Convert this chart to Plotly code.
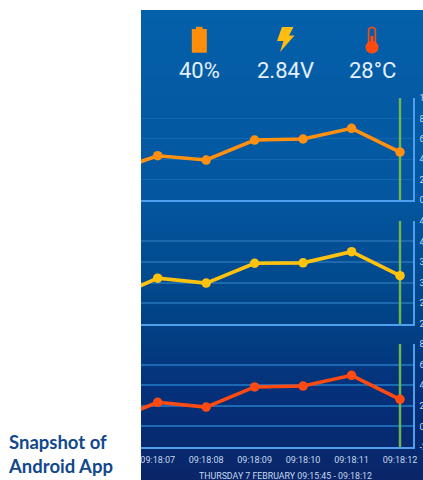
import plotly.graph_objects as go

W, H = 423, 480
times = ["09:18:06", "09:18:07", "09:18:08", "09:18:09", "09:18:10", "09:18:11", "09:18:12"]
battery = [27, 43.4, 39.2, 58.8, 59.8, 70.3, 47]
voltage = [2.59, 3.11, 2.99, 3.47, 3.48, 3.75, 3.17]
temperature = [4.6, 23.4, 18.8, 38.3, 39.2, 49.6, 26.3]
battery_ticks = [0, 20, 40, 60, 80, 100]
voltage_ticks = [2.0, 2.5, 3.0, 3.5, 4.0, 4.5]
voltage_tick_labels = ["2.0", "2.5", "3.0", "3.5", "4.0", "4.5"]
temperature_ticks = [-20, 0, 20, 40, 60, 80]
stats = ["40%", "2.84V", "28°C"]
date_label = "THURSDAY 7 FEBRUARY 09:15:45 - 09:18:12"
caption = "Snapshot of<br>Android App"
x_left, x_right = 141.0, 412.7
x_first, x_last = 157.7, 400.0


def px(x):
    return x / W


def py(y):
    return 1 - y / H


fig = go.Figure()
# background gradient lives on the first subplot so that it is drawn under the three panels
fig.add_trace(go.Heatmap(z=[[0], [1]], x=[0], y=[0, 1], xaxis="x", yaxis="y", zsmooth="best", showscale=False,
                         hoverinfo="skip", zmin=0, zmax=1,
                         colorscale=[[0, "#0a2568"], [0.17, "#052f78"], [0.38, "#024689"],
                                     [0.6, "#03569f"], [1, "#0460a9"]]))
layout_axes = dict(
    xaxis=dict(domain=[px(141), 1], range=[-0.5, 0.5], visible=False, fixedrange=True, automargin=False),
    yaxis=dict(domain=[0, py(10)], range=[0, 1], visible=False, fixedrange=True, automargin=False),
)

spacing = (x_last - x_first) / 5
lo = 1 - (x_first - x_left) / spacing
hi = 6 + (x_right - x_last) / spacing
panels = [
    (98, 200, 0, 100, battery_ticks, [str(t) for t in battery_ticks], battery, "#ff9012", "#0f69b2", 1.3),
    (220.7, 324, 2.0, 4.5, voltage_ticks, voltage_tick_labels, voltage, "#ffc20e", "#1d69ad", 1.5),
    (344, 447, -20, 80, temperature_ticks, [str(t) for t in temperature_ticks], temperature, "#ff4a12", "#1a6ab5", 1.7),
]
for n, (top, bot, vmin, vmax, ticks, labels, vals, color, grid, gw) in enumerate(panels, 2):
    xa, ya = f"x{n}", f"y{n}"
    fig.add_trace(go.Scatter(x=[6, 6], y=[vmin, vmax], mode="lines", xaxis=xa, yaxis=ya,
                             line=dict(color="#6fb64e", width=2.4), showlegend=False, hoverinfo="skip"))
    fig.add_trace(go.Scatter(x=list(range(7)), y=vals, mode="lines+markers", xaxis=xa, yaxis=ya,
                             line=dict(color=color, width=3.6), marker=dict(color=color, size=9.5),
                             showlegend=False, hoverinfo="skip"))
    layout_axes[f"xaxis{n}"] = dict(domain=[px(x_left), px(x_right)], range=[lo, hi], anchor=ya, showgrid=False,
                                    zeroline=False, showline=True, linecolor="#4f9fec", linewidth=2,
                                    tickmode="array", tickvals=list(range(1, 7)) if n == 4 else [],
                                    ticktext=times[1:] if n == 4 else [], ticks="", automargin=False,
                                    tickfont=dict(family="Roboto", size=9, color="#c4d8ee"), fixedrange=True,
                                    ticklabelstandoff=3)
    layout_axes[f"yaxis{n}"] = dict(domain=[py(bot), py(top)], range=[vmin, vmax], anchor=xa, side="right",
                                    showgrid=True, gridcolor=grid, gridwidth=gw, zeroline=False, showline=True,
                                    linecolor="#4f9fec", linewidth=2, tickmode="array", tickvals=ticks,
                                    ticktext=labels, ticks="", automargin=False,
                                    tickfont=dict(family="Roboto", size=9, color="#c4d8ee"), fixedrange=True,
                                    ticklabelstandoff=3)


def path(points):
    return "M " + " L ".join(f"{px(a):.5f},{py(b):.5f}" for a, b in points) + " Z"


def thermometer_stem(x0, x1, top, bot):
    mid = (x0 + x1) / 2
    return (f"M {px(x0):.5f},{py(bot):.5f} L {px(x0):.5f},{py(top + 3):.5f} "
            f"Q {px(x0):.5f},{py(top):.5f} {px(mid):.5f},{py(top):.5f} "
            f"Q {px(x1):.5f},{py(top):.5f} {px(x1):.5f},{py(top + 3):.5f} L {px(x1):.5f},{py(bot):.5f}")


shapes = [
    # battery icon
    dict(type="rect", xref="paper", yref="paper", x0=px(191.8), x1=px(206.8), y0=py(52.7), y1=py(29),
         fillcolor="#ff8f0a", line_width=0),
    dict(type="rect", xref="paper", yref="paper", x0=px(196), x1=px(202.5), y0=py(29.2), y1=py(26.8),
         fillcolor="#ff8f0a", line_width=0),
    # bolt icon
    dict(type="path", xref="paper", yref="paper", fillcolor="#ffbd12", line_width=0,
         path=path([(282, 27), (293.5, 27), (289, 35.5), (294.5, 35.5), (280, 52), (283.5, 41), (277, 41)])),
    # thermometer icon
    dict(type="path", xref="paper", yref="paper", path=thermometer_stem(368.6, 375.4, 27.5, 46),
         fillcolor="rgba(0,0,0,0)", line=dict(color="#ff4a12", width=1.6)),
    dict(type="circle", xref="paper", yref="paper", x0=px(365.5), x1=px(378.5), y0=py(53.5), y1=py(41),
         fillcolor="#ff4a12", line_width=0),
    dict(type="rect", xref="paper", yref="paper", x0=px(370.5), x1=px(373.5), y0=py(44), y1=py(36),
         fillcolor="#ff4a12", line_width=0),
]

anns = []
for cx, s in zip((199, 285, 372), stats):
    anns.append(dict(x=px(cx), y=py(70), xref="paper", yref="paper", text=s, showarrow=False,
                     font=dict(family="Roboto", size=22, color="#e4f0fa"), xanchor="center", yanchor="middle"))
anns.append(dict(x=px(285), y=py(476), xref="paper", yref="paper", text=date_label, showarrow=False,
                 font=dict(family="Roboto", size=8.8, color="#c4d8ee"), xanchor="center", yanchor="middle"))
anns.append(dict(x=px(6), y=py(454), xref="paper", yref="paper", text=f"<b>{caption}</b>", showarrow=False, align="left",
                 font=dict(family="Lato", size=18.5, color="#12488c"), xanchor="left", yanchor="middle"))

fig.update_layout(width=W, height=H, margin=dict(l=0, r=0, t=0, b=0), paper_bgcolor="white",
                  plot_bgcolor="rgba(0,0,0,0)", shapes=shapes, annotations=anns, showlegend=False, **layout_axes)
fig.write_html("out.html", config=dict(displayModeBar=False),
               post_script="document.body.style.margin='0';document.documentElement.style.overflow='hidden';")
